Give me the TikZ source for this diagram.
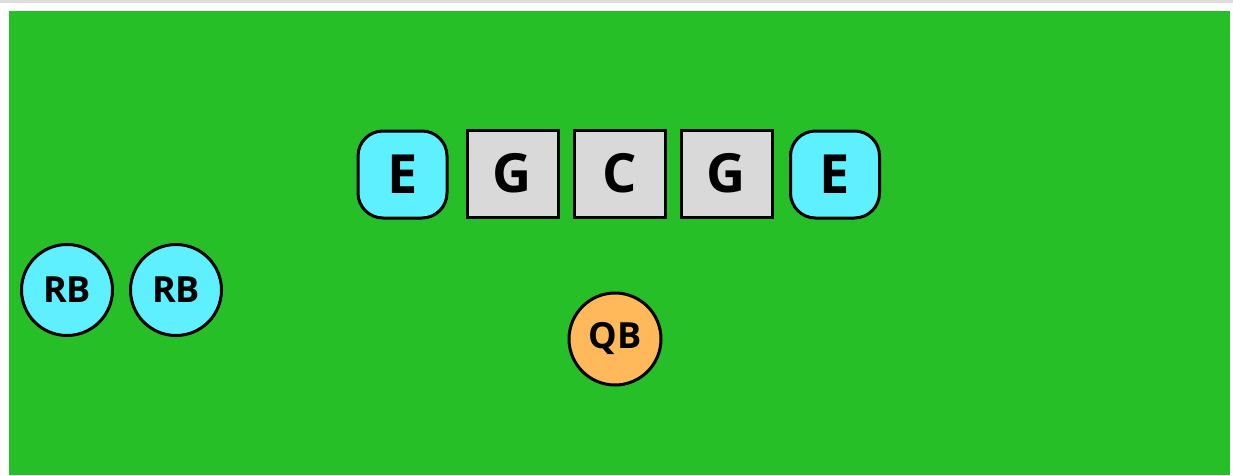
\documentclass[tikz,border=0pt]{standalone}
\usepackage{fontspec}
\setmainfont{Open Sans}
\definecolor{field}{HTML}{27BF27}
\definecolor{cyanp}{HTML}{5EF0FF}
\definecolor{greyp}{HTML}{D9D9D9}
\definecolor{orangep}{HTML}{FFB95A}
\definecolor{topline}{HTML}{DDDDDD}
\begin{document}
\begin{tikzpicture}[x=1pt,y=-1pt,
  base/.style={draw=black,line width=3pt,inner sep=0pt,font=\bfseries},
  endbox/.style={base,fill=cyanp,rounded corners=25pt,minimum width=89pt,minimum height=87pt,font=\fontsize{54}{54}\selectfont\bfseries},
  linebox/.style={base,fill=greyp,minimum width=91pt,minimum height=87pt,font=\fontsize{54}{54}\selectfont\bfseries},
  back/.style={base,circle,fill=cyanp,minimum size=91pt,font=\fontsize{36}{36}\selectfont\bfseries},
  qback/.style={base,circle,fill=orangep,minimum size=92pt,font=\fontsize{36}{36}\selectfont\bfseries}]
\useasboundingbox (0,0) rectangle (1233,476);
\fill[white] (0,0) rectangle (1233,476);
\fill[topline] (0,0) rectangle (1233,3);
\fill[field] (9,11) rectangle (1230,475);
\node[endbox] (e1) at (402.5,174.5) {E};
\node[linebox] (g1) at (512.5,173.5) {G};
\node[linebox] (c) at (619.5,173.5) {C};
\node[linebox] (g2) at (726.5,173.5) {G};
\node[endbox] (e2) at (835,174.5) {E};
\node[back] (rb1) at (67,290) {RB};
\node[back] (rb2) at (176,290) {RB};
\node[qback] (qb) at (615,339) {QB};
\end{tikzpicture}
\end{document}
